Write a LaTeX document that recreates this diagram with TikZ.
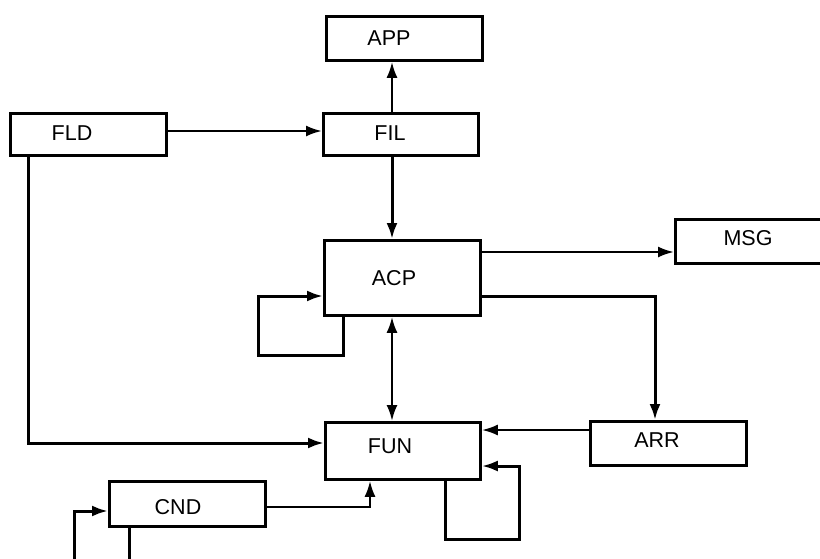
\documentclass[tikz,border=0pt]{standalone}
\usepackage{fontspec}
\setmainfont{Liberation Sans}
\usetikzlibrary{arrows.meta}
\begin{document}
\begin{tikzpicture}[x=1pt,y=-1pt,
  box/.style={draw,line width=2.8pt,rectangle,inner sep=0pt,anchor=north west},
  lbl/.style={inner sep=0pt,font=\fontsize{21.5}{25}\selectfont},
  conn/.style={line width=2.4pt,-{Latex[length=16pt,width=11pt]}},
  conn2/.style={line width=2.4pt,{Latex[length=16pt,width=11pt]}-{Latex[length=16pt,width=11pt]}},
  plain/.style={line width=3pt}]
\useasboundingbox (0,0) rectangle (820,558);
% boxes
\node[box,minimum width=156pt,minimum height=44pt] (APP) at (325,15) {};
\node[box,minimum width=155pt,minimum height=42pt] (FIL) at (322,112) {};
\node[box,minimum width=156pt,minimum height=42pt] (FLD) at (9,112) {};
\node[box,minimum width=156pt,minimum height=75pt] (ACP) at (323,239) {};
\node[box,minimum width=150pt,minimum height=44pt] (MSG) at (674,218) {};
\node[box,minimum width=156pt,minimum height=44pt] (ARR) at (589,420) {};
\node[box,minimum width=155pt,minimum height=57pt] (FUN) at (324,421) {};
\node[box,minimum width=156pt,minimum height=45pt] (CND) at (108,480) {};
% labels
\node[lbl] (tAPP) at (389,38) {APP};
\node[lbl] (tFIL) at (390,133) {FIL};
\node[lbl] (tFLD) at (72,133) {FLD};
\node[lbl] (tACP) at (394,278) {ACP};
\node[lbl] (tMSG) at (748,238) {MSG};
\node[lbl] (tARR) at (657,440) {ARR};
\node[lbl] (tFUN) at (390,446) {FUN};
\node[lbl] (tCND) at (178,507) {CND};
% free-end coordinates
\coordinate (cA) at (392,0);
\coordinate (l1) at (343,355);
\coordinate (l2) at (258,355);
\coordinate (l3) at (258,296);
\coordinate (r1) at (655,296);
\coordinate (f1) at (28,443);
\coordinate (u1) at (445,539);
\coordinate (u2) at (519,539);
\coordinate (u3) at (519,466);
\coordinate (c1) at (370,507);
\coordinate (d1) at (74,565);
\coordinate (d2) at (74,511);
\coordinate (e1) at (129,565);
% connectors
\draw[conn] (FIL.north -| cA) -- (APP.south -| cA);
\draw[conn] (FLD.east |- 0,131) -- (FIL.west |- 0,131);
\draw[conn,line width=3pt] (FIL.south -| cA) -- (ACP.north -| cA);
\draw[conn,line width=3pt] (ACP.south -| l1) -- (l1) -- (l2) -- (l3) -- (ACP.west |- l3);
\draw[conn] (ACP.east |- 0,252) -- (MSG.west |- 0,252);
\draw[conn,line width=3pt] (ACP.east |- r1) -- (r1) -- (ARR.north -| r1);
\draw[conn2] (ACP.south -| cA) -- (FUN.north -| cA);
\draw[conn,line width=3pt] (FLD.south -| f1) -- (f1) -- (FUN.west |- f1);
\draw[conn] (ARR.west |- 0,430) -- (FUN.east |- 0,430);
\draw[conn,line width=3pt] (FUN.south -| u1) -- (u1) -- (u2) -- (u3) -- (FUN.east |- u3);
\draw[conn] (CND.east |- c1) -- (c1) -- (FUN.south -| c1);
\draw[conn,line width=3pt] (d1) -- (d2) -- (CND.west |- d2);
\draw[plain] (CND.south -| e1) -- (e1);
\end{tikzpicture}
\end{document}
